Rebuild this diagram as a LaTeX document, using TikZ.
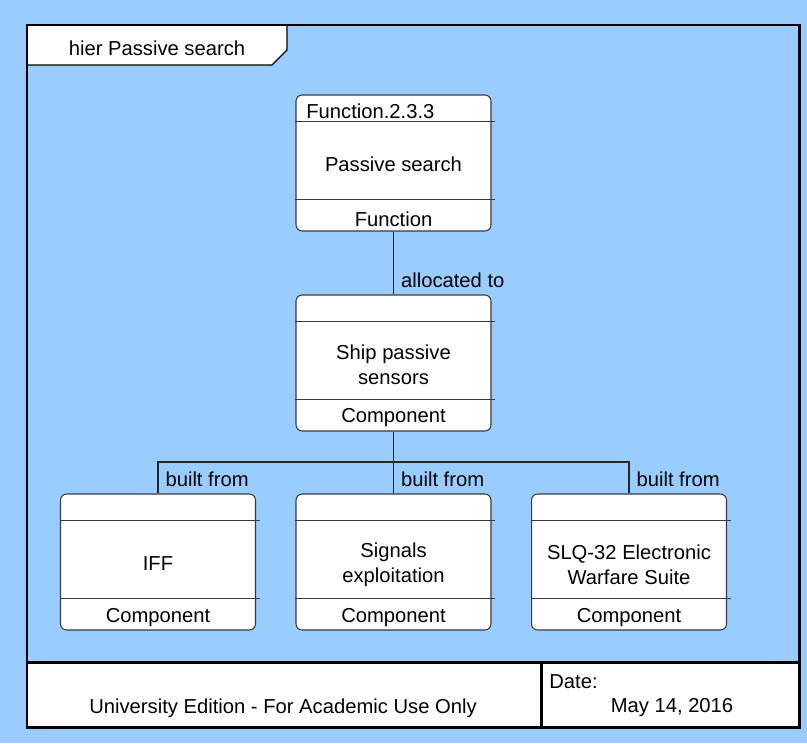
\documentclass[tikz,border=0pt]{standalone}
\usepackage{fontspec}
\setmainfont{Liberation Sans}
\definecolor{sheet}{HTML}{99CCFF}
\definecolor{edge}{HTML}{3A3A3A}
\begin{document}
\begin{tikzpicture}[x=0.02cm, y=-0.02cm,
        txt/.style = {font=\fontsize{11.5}{14.2}\selectfont, inner sep=0pt, align=center, yshift=-1.1pt},
        blk/.style = {draw=edge, line width=0.6pt, fill=white, rounded corners=3.5pt, minimum width=3.9cm, minimum height=2.72cm, inner sep=0pt},
        lbl/.style = {txt, anchor=west, xshift=4pt},
        wire/.style = {draw=black!85, line width=0.6pt}]
        \fill[sheet] (0,0) rectangle (807,743);
        \useasboundingbox (0,0) rectangle (807,743);

        \node[blk] (fn) at (393.5,163) {};
        \node[blk] (ship) at (393.5,363) {};
        \node[blk] (iff) at (158,562) {};
        \node[blk] (sig) at (393.5,562) {};
        \node[blk] (slq) at (629,562) {};

        \foreach \b in {fn, ship, iff, sig, slq} {
            \draw[edge, line width=0.6pt] ([yshift=-0.54cm]\b.north west) -- ([yshift=-0.54cm, xshift=2pt]\b.north east);
            \draw[edge, line width=0.6pt] ([yshift=0.64cm]\b.south west) -- ([yshift=0.64cm, xshift=2pt]\b.south east);
        }

        \node[txt, anchor=west] (fn-id) at (306,109) {Function.2.3.3};
        \node[txt] (fn-name) at (393.5,162) {Passive search};
        \node[txt] (fn-kind) at (393.5,217) {Function};
        \node[txt] (ship-name) at (393.5,363) {Ship passive\\sensors};
        \node[txt] (ship-kind) at (393.5,416) {Component};
        \node[txt] (iff-name) at (158,562) {IFF};
        \node[txt] (iff-kind) at (158,616) {Component};
        \node[txt] (sig-name) at (393.5,563) {Signals\\exploitation};
        \node[txt] (sig-kind) at (393.5,616) {Component};
        \node[txt] (slq-name) at (629,563) {SLQ-32 Electronic\\Warfare Suite};
        \node[txt] (slq-kind) at (629,616) {Component};

        \coordinate (bus) at (393.5,462);
        \draw[wire] (fn.south) -- node[lbl, pos=0.75] {allocated to} (ship.north);
        \draw[wire] (ship.south) -- (bus);
        \draw[wire] (bus) -| node[lbl, pos=0.75] {built from} (iff.north);
        \draw[wire] (bus) -- node[lbl] {built from} (sig.north);
        \draw[wire] (bus) -| node[lbl, pos=0.75] {built from} (slq.north);

        \draw[black, line width=0.8pt, fill=white] (27,25) -- (287,25) -- (287,50) -- (272,65) -- (27,65) -- cycle;
        \node[txt] (tab) at (157,46) {hier Passive search};

        \draw[black, line width=1.7pt, fill=white] (27,662) rectangle (799,727);
        \draw[black, line width=1.7pt] (541,662) -- (541,727);
        \node[txt] (edition) at (283,706) {University Edition - For Academic Use Only};
        \node[txt, anchor=west] (date) at (549,680) {Date:};
        \node[txt] (day) at (672,706) {May 14, 2016};

        \draw[black, line width=1.7pt] (27,25) rectangle (799,727);
    \end{tikzpicture}
\end{document}
